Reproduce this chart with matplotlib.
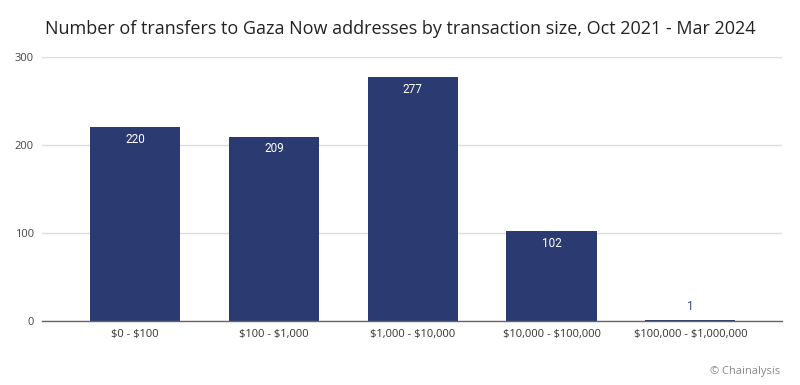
import matplotlib
matplotlib.use("Agg")
import matplotlib.pyplot as plt

plt.rcParams["text.parse_math"] = False

categories = ["$0 - $100", "$100 - $1,000", "$1,000 - $10,000", "$10,000 - $100,000", "$100,000 - $1,000,000"]
values = [220, 209, 277, 102, 1]
yticks = [0, 100, 200, 300]

bar_color = "#2b3a70"

fig = plt.figure(figsize=(8, 3.85), dpi=100)
ax = fig.add_axes([0.0525, 0.166, 0.925, 0.686])

x = list(range(len(categories)))
bars = ax.bar(x, values, width=0.65, color=bar_color, zorder=3)
for xi, v in zip(x, values):
    if v > 20:
        ax.text(xi, v - 6, str(v), ha="center", va="top", color="white", fontsize=8.5, family="Roboto", zorder=4)
    else:
        ax.text(xi, v + 8, str(v), ha="center", va="bottom", color="#3a4a85", fontsize=8.5, family="Roboto", zorder=4)

ax.set_xlim(-0.67, 4.66)
ax.set_ylim(0, 300)
ax.set_yticks(yticks)
ax.set_yticklabels([str(t) for t in yticks], fontsize=8, color="#444444", family="Open Sans")
ax.set_xticks(x)
ax.set_xticklabels(categories, fontsize=8, color="#333333", family="Open Sans")
ax.tick_params(axis="both", length=0)
ax.tick_params(axis="y", pad=6)
ax.tick_params(axis="x", pad=6)
ax.yaxis.grid(True, color="#dddddd", linewidth=1, zorder=0)
for s in ["top", "right", "left"]:
    ax.spines[s].set_visible(False)
ax.spines["bottom"].set_color("#666666")
ax.spines["bottom"].set_linewidth(1)
ax.spines["bottom"].set_zorder(5)

fig.text(0.5, 0.925, "Number of transfers to Gaza Now addresses by transaction size, Oct 2021 - Mar 2024",
         ha="center", va="center", fontsize=13, color="#222222", family="Open Sans")
fig.text(0.975, 0.035, "© Chainalysis", ha="right", va="center", fontsize=8, color="#888888", family="Open Sans")

fig.savefig("out.png", dpi=100)
